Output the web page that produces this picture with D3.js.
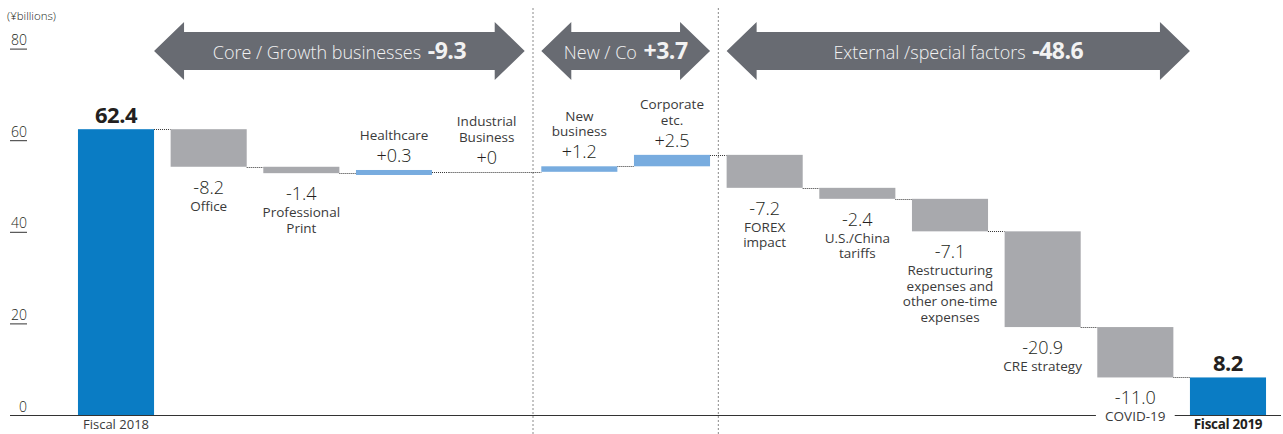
<!DOCTYPE html>
<html>
<head>
<meta charset="utf-8">
<script src="https://cdn.jsdelivr.net/npm/d3@7"></script>
<style>
  html, body { margin: 0; padding: 0; background: #fff; }
  svg { display: block; font-family: "Open Sans", "Noto Sans", sans-serif; }
</style>
</head>
<body>
<svg id="chart" width="1283" height="434"></svg>
<script>
// Operating income bridge, fiscal 2018 -> fiscal 2019 (¥ billions)
const categories = ["Fiscal 2018", "Office", "Professional Print", "Healthcare", "Industrial Business",
  "New business", "Corporate etc.", "FOREX impact", "U.S./China tariffs", "Restructuring",
  "CRE strategy", "COVID-19", "Fiscal 2019"];
const changes = [62.4, -8.2, -1.4, 0.3, 0, 1.2, 2.5, -7.2, -2.4, -7.1, -20.9, -11.0, 8.2];
const isTotal = [true, false, false, false, false, false, false, false, false, false, false, false, true];
const valueLabels = ["62.4", "-8.2", "-1.4", "+0.3", "+0", "+1.2", "+2.5", "-7.2", "-2.4", "-7.1", "-20.9", "-11.0", "8.2"];
const nameLines = [
  [], ["Office"], ["Professional", "Print"], ["Healthcare"], ["Industrial", "Business"],
  ["New", "business"], ["Corporate", "etc."], ["FOREX", "impact"], ["U.S./China", "tariffs"],
  ["Restructuring", "expenses and", "other one-time", "expenses"], ["CRE strategy"], ["COVID-19"], []
];
const yTicks = [0, 20, 40, 60, 80];
const groupNames = ["Core / Growth businesses", "New / Co", "External /special factors"];
const groupTotals = ["-9.3", "+3.7", "-48.6"];

const colors = { total: "#0a7cc4", up: "#78acdf", down: "#a8a9ad", arrow: "#686b72", text: "#231f20", name: "#3a3a3a" };

const svg = d3.select("#chart");

const x = d3.scaleBand().domain(categories).range([70, 1274]).paddingInner(0.179).paddingOuter(0.086);
const y = d3.scaleLinear().domain([0, 80]).range([415, 48.6]);
const bw = x.bandwidth();

// running totals -> bar extents
let run = 0;
const bars = categories.map((c, i) => {
  let start, end;
  if (isTotal[i]) { start = 0; end = changes[i]; run = changes[i]; }
  else { start = run; end = run + changes[i]; run = end; }
  return { cat: c, i, start, end, change: changes[i], level: run };
});

// vertical group separators
const sepX = [
  (x(categories[4]) + bw + x(categories[5])) / 2,
  (x(categories[6]) + bw + x(categories[7])) / 2
];
svg.selectAll("line.sep").data(sepX).join("line")
  .attr("class", "sep")
  .attr("x1", d => d).attr("x2", d => d)
  .attr("y1", 8).attr("y2", 434)
  .attr("stroke", "#8a8a8a").attr("stroke-width", 1).attr("stroke-dasharray", "2,2");

// y axis: tick label sitting on a short underline
const yAxis = d3.axisRight(y).tickValues(yTicks).tickSize(17).tickFormat(d3.format("d"));
const axisG = svg.append("g").attr("transform", "translate(10,0)").call(yAxis);
axisG.select(".domain").remove();
axisG.selectAll(".tick line").attr("stroke", "#333").attr("stroke-width", 1)
  .filter(d => d === 0).remove();
axisG.selectAll(".tick text")
  .attr("x", 17).attr("dy", "-4").attr("text-anchor", "end")
  .attr("font-size", 14).attr("font-family", "\"Open Sans\", sans-serif").attr("font-weight", 300)
  .attr("fill", colors.text);

svg.append("text").attr("x", 7).attr("y", 20)
  .attr("font-size", 11.5).attr("fill", colors.text).attr("font-weight", 300)
  .text("(¥billions)");

// baseline
svg.append("line").attr("x1", 10).attr("x2", 1281).attr("y1", 415.5).attr("y2", 415.5)
  .attr("stroke", "#333").attr("stroke-width", 1);

// connectors between consecutive bars
const conns = bars.slice(0, -1).map((b, i) => ({ x1: x(b.cat) + bw, x2: x(categories[i + 1]), yv: b.level }));
svg.selectAll("line.conn").data(conns).join("line")
  .attr("class", "conn")
  .attr("x1", d => d.x1).attr("x2", d => d.x2)
  .attr("y1", d => Math.round(y(d.yv)) + 0.5).attr("y2", d => Math.round(y(d.yv)) + 0.5)
  .attr("stroke", "#333").attr("stroke-width", 1).attr("stroke-dasharray", "1,1");
// zero-change category: dotted line carries through its column
svg.selectAll("line.zero").data(bars.filter(b => !isTotal[b.i] && b.change === 0)).join("line")
  .attr("class", "zero")
  .attr("x1", d => x(d.cat)).attr("x2", d => x(d.cat) + bw)
  .attr("y1", d => Math.round(y(d.level)) + 0.5).attr("y2", d => Math.round(y(d.level)) + 0.5)
  .attr("stroke", "#333").attr("stroke-width", 1).attr("stroke-dasharray", "1,1");

// bars (tiny changes get a minimum visible height)
const minH = 5;
const barGeom = bars.map(b => {
  let top = y(Math.max(b.start, b.end)), bot = y(Math.min(b.start, b.end));
  if (b.change !== 0 && bot - top < minH) {
    const mid = (top + bot) / 2; top = mid - minH / 2; bot = mid + minH / 2;
  }
  return Object.assign({}, b, { top, bot });
});
svg.selectAll("rect.bar").data(barGeom.filter(b => b.change !== 0)).join("rect")
  .attr("class", "bar")
  .attr("x", d => x(d.cat)).attr("width", bw)
  .attr("y", d => d.top).attr("height", d => d.bot - d.top)
  .attr("fill", d => isTotal[d.i] ? colors.total : (d.change > 0 ? colors.up : colors.down));

// value and name labels
barGeom.forEach(b => {
  const cx = x(b.cat) + bw / 2;
  const names = nameLines[b.i];
  if (isTotal[b.i]) {
    svg.append("text").attr("x", cx).attr("y", b.top - 6)
      .attr("text-anchor", "middle").attr("font-size", 22).attr("font-weight", 700)
      .attr("fill", colors.text).attr("letter-spacing", -0.5).text(valueLabels[b.i]);
  } else if (b.change >= 0) {
    const vb = b.top - 8;
    svg.append("text").attr("x", cx).attr("y", vb)
      .attr("text-anchor", "middle").attr("font-size", 18).attr("font-weight", 300)
      .attr("fill", colors.text).text(valueLabels[b.i]);
    names.forEach((t, k) => {
      svg.append("text").attr("x", cx).attr("y", vb - 22 - (names.length - 1 - k) * 15.5)
        .attr("text-anchor", "middle").attr("font-size", 13.5)
        .attr("fill", colors.name).text(t);
    });
  } else {
    const vb = b.bot + 27;
    svg.append("text").attr("x", cx).attr("y", vb)
      .attr("text-anchor", "middle").attr("font-size", 18).attr("font-weight", 300)
      .attr("fill", colors.text).text(valueLabels[b.i]);
    names.forEach((t, k) => {
      const ty = vb + 17 + k * 15.5;
      if (ty > 410) {
        // label crossing the baseline gets a white backing
        const w = t.length * 7.6 + 18;
        svg.append("rect").attr("x", cx - w / 2).attr("y", ty - 14).attr("width", w).attr("height", 18).attr("fill", "#fff");
      }
      svg.append("text").attr("x", cx).attr("y", ty)
        .attr("text-anchor", "middle").attr("font-size", 13.5)
        .attr("fill", colors.name).text(t);
    });
  }
});

// category labels for the two totals
svg.append("text").attr("x", x(categories[0]) + bw / 2).attr("y", 429)
  .attr("text-anchor", "middle").attr("font-size", 13).attr("fill", colors.name).text("Fiscal 2018");
svg.append("text").attr("x", x(categories[12]) + bw / 2).attr("y", 429)
  .attr("text-anchor", "middle").attr("font-size", 13.5).attr("font-weight", 700)
  .attr("fill", colors.text).attr("letter-spacing", -0.3).text("Fiscal 2019");

// double-headed group arrows
const arrowSpans = [
  [x(categories[0]) + bw, x(categories[4]) + bw],
  [x(categories[5]), x(categories[6]) + bw],
  [x(categories[7]), x(categories[12])]
];
const ay = 51, headHalf = 29, bodyHalf = 19, headLen = 30;
const arrows = svg.selectAll("g.arrow").data(arrowSpans.map((s, i) => ({ l: s[0], r: s[1], name: groupNames[i], total: groupTotals[i] })))
  .join("g").attr("class", "arrow");
arrows.append("path")
  .attr("d", d => {
    const p = d3.path();
    p.moveTo(d.l, ay);
    p.lineTo(d.l + headLen, ay - headHalf);
    p.lineTo(d.l + headLen, ay - bodyHalf);
    p.lineTo(d.r - headLen, ay - bodyHalf);
    p.lineTo(d.r - headLen, ay - headHalf);
    p.lineTo(d.r, ay);
    p.lineTo(d.r - headLen, ay + headHalf);
    p.lineTo(d.r - headLen, ay + bodyHalf);
    p.lineTo(d.l + headLen, ay + bodyHalf);
    p.lineTo(d.l + headLen, ay + headHalf);
    p.closePath();
    return p.toString();
  })
  .attr("fill", colors.arrow);
const at = arrows.append("text")
  .attr("x", d => (d.l + d.r) / 2).attr("y", ay + 7.5)
  .attr("text-anchor", "middle").attr("fill", "#f2f2f2");
at.append("tspan").attr("font-size", 18).attr("font-weight", 300).text(d => d.name + " ");
at.append("tspan").attr("font-size", 23).attr("font-weight", 700).attr("dx", 2).attr("letter-spacing", -0.5).text(d => d.total);
</script>
</body>
</html>
